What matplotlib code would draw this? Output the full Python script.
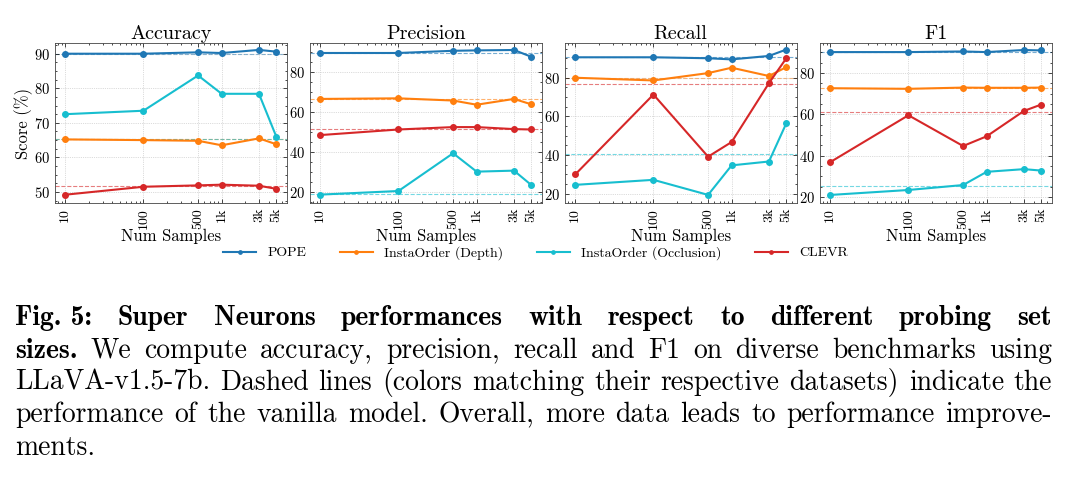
import matplotlib
matplotlib.use("Agg")
import matplotlib.pyplot as plt
from matplotlib.ticker import AutoMinorLocator, NullFormatter
import numpy as np

plt.rcParams['font.family'] = 'cmr10'
plt.rcParams['mathtext.fontset'] = 'cm'
plt.rcParams['axes.formatter.use_mathtext'] = True

samples = [10, 100, 500, 1000, 3000, 5000]
sample_labels = ['10', '100', '500', '1k', '3k', '5k']
datasets = ['POPE', 'InstaOrder (Depth)', 'InstaOrder (Occlusion)', 'CLEVR']
colors = ['#1f77b4', '#ff7f0e', '#17becf', '#d62728']
metrics = ['Accuracy', 'Precision', 'Recall', 'F1']

# Accuracy
acc_pope = [90.0, 90.0, 90.4, 90.2, 91.1, 90.6]
acc_depth = [65.2, 65.0, 64.8, 63.5, 65.5, 63.8]
acc_occl = [72.5, 73.5, 83.7, 78.4, 78.4, 66.0]
acc_clevr = [49.2, 51.5, 51.9, 52.1, 51.8, 50.9]
acc_base = [90.0, 65.3, 65.2, 51.7]

# Precision
prec_pope = [89.6, 89.6, 90.7, 90.9, 91.1, 87.7]
prec_depth = [66.6, 66.9, 65.8, 63.7, 66.6, 63.9]
prec_occl = [18.7, 20.5, 39.4, 30.2, 30.7, 23.5]
prec_clevr = [48.5, 51.3, 52.5, 52.5, 51.5, 51.3]
prec_base = [89.6, 66.6, 19.2, 51.3]

# Recall
rec_pope = [90.6, 90.6, 90.1, 89.5, 91.3, 94.6]
rec_depth = [80.0, 78.6, 82.4, 85.2, 80.9, 85.5]
rec_occl = [24.5, 27.1, 19.3, 34.6, 36.6, 56.4]
rec_clevr = [29.9, 71.3, 39.1, 46.7, 77.2, 90.1]
rec_base = [90.6, 80.0, 40.3, 76.5]

# F1
f1_pope = [90.2, 90.2, 90.5, 90.2, 91.2, 91.0]
f1_depth = [72.7, 72.4, 73.0, 72.9, 72.9, 73.0]
f1_occl = [21.0, 23.4, 25.8, 32.2, 33.5, 32.8]
f1_clevr = [36.9, 59.6, 44.7, 49.4, 61.7, 64.8]
f1_base = [90.2, 72.7, 25.5, 61.3]

panel_series = [
    [acc_pope, acc_depth, acc_occl, acc_clevr],
    [prec_pope, prec_depth, prec_occl, prec_clevr],
    [rec_pope, rec_depth, rec_occl, rec_clevr],
    [f1_pope, f1_depth, f1_occl, f1_clevr],
]
panel_base = [acc_base, prec_base, rec_base, f1_base]
panel_ylim = [(46.8, 93.1), (14.5, 94.6), (15.1, 98.0), (17.1, 94.6)]
panel_yticks = [[50, 60, 70, 80, 90], [20, 40, 60, 80], [20, 40, 60, 80], [20, 40, 60, 80]]

W, H = 1071, 478
fig = plt.figure(figsize=(W / 100, H / 100), dpi=100)

lefts = [55, 310, 565, 820]
ax_w, ax_top, ax_bot = 231.5, 43, 203

for i, metric in enumerate(metrics):
    ax = fig.add_axes([lefts[i] / W, 1 - ax_bot / H, ax_w / W, (ax_bot - ax_top) / H])
    for j, name in enumerate(datasets):
        ax.axhline(panel_base[i][j], color=colors[j], linestyle='--', linewidth=0.8, alpha=0.6, zorder=1)
        ax.plot(samples, panel_series[i][j], '-o', color=colors[j], linewidth=1.5,
                markersize=4, label=name, zorder=3)
    ax.set_xscale('log')
    ax.set_xlim(7.4, 6750)
    ax.set_xticks(samples)
    ax.set_xticklabels(sample_labels, rotation=90)
    ax.xaxis.set_minor_formatter(NullFormatter())
    ax.set_ylim(*panel_ylim[i])
    ax.set_yticks(panel_yticks[i])
    ax.yaxis.set_minor_locator(AutoMinorLocator(4))
    ax.tick_params(which='both', direction='in', top=True, right=True, labelsize=10.5, width=0.5)
    ax.tick_params(axis='x', labelsize=10)
    ax.tick_params(which='major', length=3)
    ax.tick_params(which='minor', length=1.5)
    ax.grid(True, which='major', linestyle=':', linewidth=0.5, color='#bbbbbb')
    for s in ax.spines.values():
        s.set_linewidth(0.6)
        s.set_color('#444444')
    ax.set_title(metric, fontsize=14.5, pad=3)
    ax.set_xlabel('Num Samples', fontsize=12, labelpad=0)
    if i == 0:
        ax.set_ylabel('Score (%)', fontsize=12, labelpad=1)
        handles, labels = ax.get_legend_handles_labels()

fig.legend(handles, labels, loc='center', bbox_to_anchor=(0.5, 1 - 253 / H), ncol=4,
           frameon=False, fontsize=10, handlelength=2.4, columnspacing=2.4,
           markerscale=0.6, handletextpad=0.8)

# caption, justified word by word ('~' keeps two words together)
cap_lines = [
    [('Fig.~5: Super Neurons performances with respect to different probing set', True)],
    [('sizes.', True), ('We compute accuracy, precision, recall and F1 on diverse benchmarks using', False)],
    [('LLaVA-v1.5-7b. Dashed lines (colors matching their respective datasets) indicate the', False)],
    [('performance of the vanilla model. Overall, more data leads to performance improve-', False)],
    [('ments.', False)],
]
baselines = [325, 358, 390, 422, 455]
cap_left, cap_right = 15, 1052

renderer = fig.canvas.get_renderer()

# pick a font size so the widest line fits with ordinary word spacing
natural = []
for parts in cap_lines[:-1]:
    total = 0
    for txt, bold in parts:
        t = fig.text(0, 0, txt.replace('~', ' '), fontsize=10, family='cmb10' if bold else 'cmr10')
        total += t.get_window_extent(renderer).width
        t.remove()
    natural.append(total)
cap_size = 10 * (cap_right - cap_left - 4) / max(natural)

for k, parts in enumerate(cap_lines):
    words = []
    for txt, bold in parts:
        for w in txt.split(' '):
            words.append((w.replace('~', ' '), bold))
    objs = []
    for w, bold in words:
        t = fig.text(0, 1 - baselines[k] / H, w, fontsize=cap_size, va='baseline', ha='left',
                     family='cmb10' if bold else 'cmr10')
        objs.append(t)
    widths = [t.get_window_extent(renderer).width for t in objs]
    if k < len(cap_lines) - 1:
        gap = (cap_right - cap_left - sum(widths)) / (len(objs) - 1)
    else:
        gap = cap_size * 100 / 72 * 0.333
    x = cap_left
    for t, w in zip(objs, widths):
        t.set_x(x / W)
        x += w + gap

fig.savefig('out.png', dpi=100)
